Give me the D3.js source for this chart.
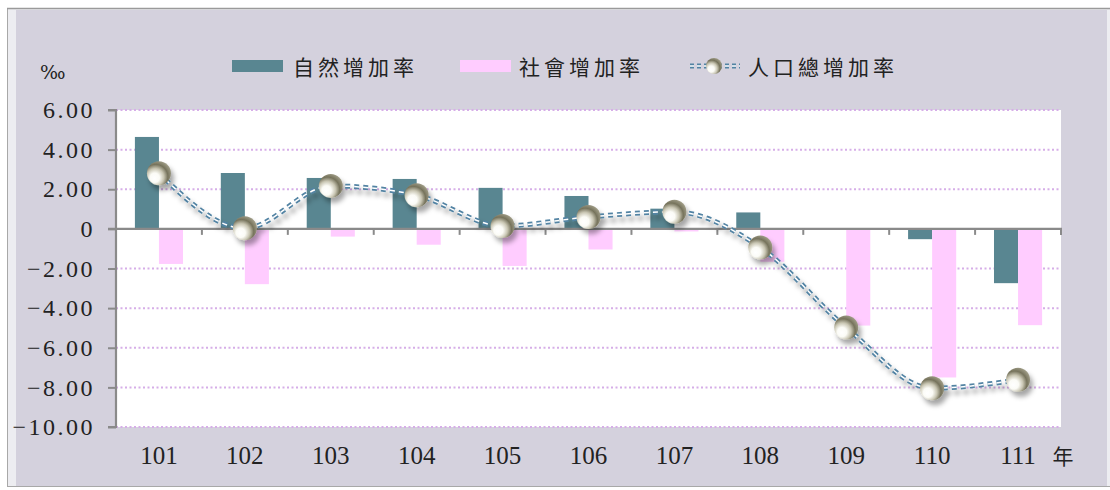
<!DOCTYPE html>
<html><head><meta charset="utf-8">
<script src="https://cdn.jsdelivr.net/npm/d3@7"></script>
<style>html,body{margin:0;padding:0;background:#fff;}svg{display:block;}</style>
</head><body>
<svg id="chart" width="1110" height="490"></svg>
<script>
const years = ["101","102","103","104","105","106","107","108","109","110","111"];
const naturalRate = [4.64, 2.82, 2.57, 2.52, 2.07, 1.66, 1.02, 0.83, -0.05, -0.52, -2.74];
const socialRate = [-1.77, -2.79, -0.39, -0.80, -1.87, -1.04, -0.13, -1.66, -4.88, -7.50, -4.86];
const totalRate = [2.81, 0.03, 2.17, 1.70, 0.15, 0.60, 0.86, -0.94, -4.98, -8.04, -7.62];
const yTicks = [6, 4, 2, 0, -2, -4, -6, -8, -10];
const seriesNames = ["自然增加率", "社會增加率", "人口總增加率"];

const svg = d3.select("#chart");
const W = 1110, H = 490;
const plot = {l: 116, r: 1061, t: 110, b: 427};
const cNat = "#598691", cSoc = "#ffccff", cLine = "#5283a3", bg = "#d4d1dd";

const defs = svg.append("defs");
const rg = defs.append("radialGradient").attr("id","ball").attr("cx","38%").attr("cy","62%").attr("r","65%").attr("fx","30%").attr("fy","72%");
[["0%","#ffffff"],["30%","#fbfbf6"],["55%","#c9c6b3"],["78%","#76735c"],["100%","#9d9a84"]].forEach(s=>rg.append("stop").attr("offset",s[0]).attr("stop-color",s[1]));
const f = defs.append("filter").attr("id","shadow").attr("x","-30%").attr("y","-30%").attr("width","160%").attr("height","160%");
f.append("feDropShadow").attr("dx",3).attr("dy",5).attr("stdDeviation",2.5).attr("flood-color","#000").attr("flood-opacity",0.35);

// frame
svg.append("rect").attr("x",7.5).attr("y",8.5).attr("width",1110).attr("height",478).attr("fill","#ededf1").attr("stroke","#a8a8a8");
svg.append("rect").attr("x",16).attr("y",10).attr("width",1091).attr("height",476).attr("fill",bg);
svg.append("line").attr("x1",7).attr("x2",W).attr("y1",8.5).attr("y2",8.5).attr("stroke","#9a9a9a").attr("stroke-width",1.5);

// plot bg
svg.append("rect").attr("x",plot.l).attr("y",plot.t).attr("width",plot.r-plot.l).attr("height",plot.b-plot.t).attr("fill","#fff");

const y = d3.scaleLinear().domain([-10,6]).range([plot.b, plot.t]);
const x0 = d3.scaleBand().domain(years).range([plot.l, plot.r]).paddingInner(0.44).paddingOuter(0.22);
const x1 = d3.scaleBand().domain(["n","s"]).range([0, x0.bandwidth()]);
const cx = d => x0(d) + x0.bandwidth()/2;

// grid
svg.append("g").selectAll("line").data(yTicks.filter(v=>v!==0)).join("line")
  .attr("x1",plot.l).attr("x2",plot.r).attr("y1",d=>y(d)).attr("y2",d=>y(d))
  .attr("stroke","#d6aee8").attr("stroke-width",2).attr("stroke-dasharray","2,2.5");

// bars
svg.append("g").selectAll("rect").data(years).join("rect")
  .attr("x",d=>x0(d)+x1("n")).attr("width",x1.bandwidth())
  .attr("y",(d,i)=>y(Math.max(0,naturalRate[i]))).attr("height",(d,i)=>Math.abs(y(naturalRate[i])-y(0)))
  .attr("fill",cNat);
svg.append("g").selectAll("rect").data(years).join("rect")
  .attr("x",d=>x0(d)+x1("s")).attr("width",x1.bandwidth())
  .attr("y",(d,i)=>y(Math.max(0,socialRate[i]))).attr("height",(d,i)=>Math.abs(y(socialRate[i])-y(0)))
  .attr("fill",cSoc);

// axes
const yAxis = d3.axisLeft(y).tickValues(yTicks).tickSize(8).tickFormat(d=> d===0 ? "0" : d3.format(".2f")(d).replace("-","−"));
const gy = svg.append("g").attr("transform",`translate(${plot.l},0)`).call(yAxis);
gy.select(".domain").attr("stroke","#8a8a8a").attr("stroke-width",2.2).attr("d",`M-8,${plot.t}H0V${plot.b}H-8`);
gy.selectAll(".tick line").attr("stroke","#8a8a8a").attr("stroke-width",2);
gy.selectAll(".tick text").attr("x",-21).attr("fill","#222").style("font-family","'Liberation Serif','DejaVu Serif',serif").style("font-size","24px").style("letter-spacing","2.5px");

// zero axis with ticks at category boundaries
const bounds = years.map(d=>x0(d) - x0.step()*x0.paddingInner()/2).slice(1).concat([plot.r]);
svg.append("line").attr("x1",plot.l-8).attr("x2",plot.r+1).attr("y1",y(0)).attr("y2",y(0)).attr("stroke","#8a8a8a").attr("stroke-width",2.2);
svg.append("g").selectAll("line").data(bounds).join("line")
  .attr("x1",d=>d).attr("x2",d=>d).attr("y1",y(0)).attr("y2",y(0)+6).attr("stroke","#8a8a8a").attr("stroke-width",2);

// x labels
svg.append("g").selectAll("text").data(years).join("text")
  .attr("x",d=>cx(d)).attr("y",455).attr("text-anchor","middle").attr("dominant-baseline","central")
  .style("font-family","'Liberation Serif','DejaVu Serif',serif").style("font-size","25px").attr("fill","#222").text(d=>d);
svg.append("text").attr("x",1063).attr("y",455).attr("text-anchor","middle").attr("dominant-baseline","central")
  .style("font-family","'Noto Sans CJK TC',sans-serif").style("font-size","21px").attr("fill","#222").text("年");
svg.append("text").attr("x",40).attr("y",72).attr("dominant-baseline","central")
  .style("font-family","'DejaVu Serif',serif").style("font-size","19px").attr("fill","#222").text("‰");

// line
const pts = years.map((d,i)=>[cx(d), y(totalRate[i])]);
const lineGen = d3.line().curve(d3.curveMonotoneX);
const lg = svg.append("g").attr("filter","url(#shadow)");
lg.append("path").attr("d",lineGen(pts)).attr("fill","none").attr("stroke",cLine).attr("stroke-width",5).attr("stroke-dasharray","5,4");
lg.append("path").attr("d",lineGen(pts)).attr("fill","none").attr("stroke","#ffffff").attr("stroke-width",1.5).attr("stroke-dasharray","5,4");
lg.selectAll("circle").data(pts).join("circle").attr("cx",d=>d[0]).attr("cy",d=>d[1]).attr("r",12).attr("fill","url(#ball)");

// legend
const lf = "'Noto Sans CJK TC','Noto Sans CJK SC',sans-serif";
const leg = svg.append("g");
leg.append("rect").attr("x",232).attr("y",60).attr("width",51).attr("height",12).attr("fill",cNat);
leg.append("rect").attr("x",460).attr("y",60).attr("width",51).attr("height",12).attr("fill",cSoc);
[[293,seriesNames[0]],[519,seriesNames[1]],[748,seriesNames[2]]].forEach(([lx,t])=>{
  leg.append("text").attr("x",lx).attr("y",66).attr("dominant-baseline","central")
    .style("font-family",lf).style("font-size","21px").style("letter-spacing","4px").attr("fill","#222").text(t);
});
const ll = leg.append("g");
ll.append("line").attr("x1",690).attr("x2",740).attr("y1",66).attr("y2",66).attr("stroke",cLine).attr("stroke-width",5).attr("stroke-dasharray","4,3");
ll.append("line").attr("x1",690).attr("x2",740).attr("y1",66).attr("y2",66).attr("stroke","#fff").attr("stroke-width",1.4).attr("stroke-dasharray","4,3");
ll.append("circle").attr("cx",714).attr("cy",66).attr("r",8).attr("fill","url(#ball)");
</script>
</body></html>
